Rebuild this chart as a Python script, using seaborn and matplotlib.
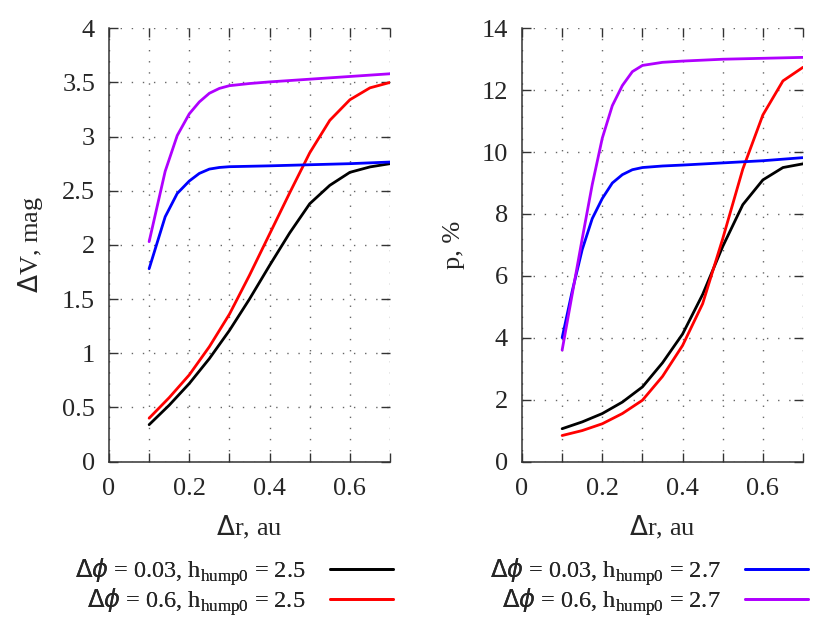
import matplotlib
matplotlib.use("Agg")
import matplotlib.pyplot as plt
from matplotlib.ticker import MultipleLocator
import seaborn as sns
import pandas as pd

# ---------------- data ----------------
dr = [0.1, 0.15, 0.2, 0.25, 0.3, 0.35, 0.4, 0.45, 0.5, 0.55, 0.6, 0.65, 0.7]
dr_fast = [0.1, 0.14, 0.17, 0.2, 0.225, 0.25, 0.275, 0.3, 0.35, 0.4, 0.5, 0.6, 0.7]

# left panel: Delta V, mag
dv_black = [0.34, 0.52, 0.72, 0.95, 1.21, 1.50, 1.81, 2.11, 2.38, 2.55, 2.67, 2.72, 2.75]
dv_red = [0.40, 0.59, 0.80, 1.06, 1.36, 1.72, 2.10, 2.48, 2.85, 3.15, 3.34, 3.45, 3.50]
dv_blue = [1.78, 2.26, 2.475, 2.59, 2.66, 2.70, 2.715, 2.722, 2.726, 2.73, 2.74, 2.75, 2.765]
dv_purple = [2.03, 2.68, 3.01, 3.21, 3.32, 3.40, 3.445, 3.47, 3.49, 3.505, 3.53, 3.555, 3.58]

# right panel: polarization p, %
dr_p = [0.1, 0.125, 0.15, 0.175, 0.2, 0.225, 0.25, 0.275, 0.3, 0.35, 0.4, 0.5, 0.6, 0.7]
p_black = [1.06, 1.28, 1.55, 1.92, 2.41, 3.19, 4.12, 5.40, 6.95, 8.30, 9.10, 9.50, 9.62]
p_red = [0.84, 1.00, 1.22, 1.55, 1.98, 2.75, 3.75, 5.10, 7.20, 9.45, 11.20, 12.30, 12.74]
p_blue = [4.0, 5.5, 6.85, 7.85, 8.5, 9.0, 9.27, 9.43, 9.5, 9.55, 9.58, 9.65, 9.72, 9.82]
p_purple = [3.6, 5.4, 7.2, 8.95, 10.45, 11.5, 12.15, 12.6, 12.8, 12.9, 12.94, 13.0, 13.03, 13.06]

labels = [
    r"$\mathsf{\Delta}\phi$ = 0.03, h$_{\mathrm{hump0}}$ = 2.5",
    r"$\mathsf{\Delta}\phi$ = 0.6, h$_{\mathrm{hump0}}$ = 2.5",
    r"$\mathsf{\Delta}\phi$ = 0.03, h$_{\mathrm{hump0}}$ = 2.7",
    r"$\mathsf{\Delta}\phi$ = 0.6, h$_{\mathrm{hump0}}$ = 2.7",
]
colors = ["#000000", "#ff0000", "#0000ff", "#b000ff"]

x_ticks = [0, 0.2, 0.4, 0.6]
# --------------------------------------

sns.set_style("ticks")
plt.rcParams["font.family"] = ["Liberation Serif", "DejaVu Serif"]
plt.rcParams["mathtext.fontset"] = "custom"
plt.rcParams["mathtext.rm"] = "Liberation Serif"
plt.rcParams["mathtext.it"] = "DejaVu Sans:italic"
plt.rcParams["mathtext.sf"] = "DejaVu Sans"
plt.rcParams["mathtext.bf"] = "DejaVu Sans:bold"
plt.rcParams["font.size"] = 19

fig = plt.figure(figsize=(8.3, 6.23), dpi=100)
axL = fig.add_axes([0.1313, 0.2592, 0.3386, 0.6954])
axR = fig.add_axes([0.6289, 0.2592, 0.3386, 0.6954])

lw = 2.0
left_series = [(dr, dv_black), (dr, dv_red), (dr_fast, dv_blue), (dr_fast, dv_purple)]
right_series = [(dr, p_black), (dr, p_red), (dr_p, p_blue), (dr_p, p_purple)]

for ax, series in ((axL, left_series), (axR, right_series)):
    for (xs, ys), lab, c in zip(series, labels, colors):
        df = pd.DataFrame({"x": xs, "y": ys})
        sns.lineplot(data=df, x="x", y="y", color=c, lw=lw, ax=ax, label=lab,
                     sort=False, legend=False)

def style(ax, ymax, ystep, ylabel):
    ax.set_xlim(0, 0.7)
    ax.set_ylim(0, ymax)
    ax.set_xticks(x_ticks)
    ax.set_xticklabels([("0" if t == 0 else f"{t:g}") for t in x_ticks])
    ax.xaxis.set_minor_locator(MultipleLocator(0.1))
    ax.yaxis.set_major_locator(MultipleLocator(ystep))
    ax.yaxis.set_major_formatter(plt.FuncFormatter(lambda v, p: f"{v:g}"))
    for s in ("top", "right"):
        ax.spines[s].set_visible(False)
    for s in ("left", "bottom"):
        ax.spines[s].set_color("#333333")
        ax.spines[s].set_linewidth(1.1)
    ax.tick_params(which="both", direction="in", length=6.5, width=1.0,
                   color="#333333", top=True, right=True, labelsize=19)
    ax.tick_params(axis="x", which="both", pad=12)
    ax.tick_params(axis="y", which="both", pad=10)
    ax.grid(True, axis="x", which="both", color="#666666", lw=1.0,
            linestyle=(0, (1, 7)))
    ax.grid(True, axis="y", which="major", color="#666666", lw=1.0,
            linestyle=(0, (1, 7)))
    ax.set_axisbelow(True)
    ax.set_xlabel(r"$\mathsf{\Delta}$r, au", fontsize=19, labelpad=10)
    ax.set_ylabel(ylabel, fontsize=19, labelpad=12)

style(axL, 4, 0.5, r"$\mathsf{\Delta}$V, mag")
style(axR, 14, 2, "p, %")

# legends, gnuplot style: text right-aligned, sample line to the right
def add_legend(ax, idx, xr, yc):
    h = ax.get_lines()[idx]
    leg = fig.legend([h], [labels[idx]], loc="center right",
                     bbox_to_anchor=(xr, yc), bbox_transform=fig.transFigure,
                     frameon=False, markerfirst=False, handlelength=2.6,
                     handletextpad=1.0, borderpad=0, borderaxespad=0,
                     fontsize=17.5)
    fig.add_artist(leg)

add_legend(axL, 0, 393 / 830, 1 - 572 / 623)
add_legend(axL, 1, 393 / 830, 1 - 602 / 623)
add_legend(axR, 2, 808 / 830, 1 - 572 / 623)
add_legend(axR, 3, 808 / 830, 1 - 602 / 623)

fig.savefig("out.png", dpi=100)
